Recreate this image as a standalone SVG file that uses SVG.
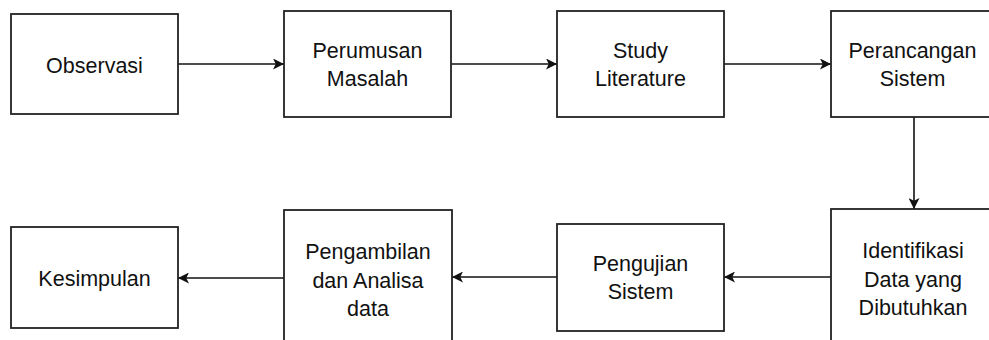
<svg xmlns="http://www.w3.org/2000/svg" width="989" height="340" viewBox="0 0 989 340">
<style>
.box{fill:#fff;stroke:#222;stroke-width:1.8}
.lbl{font-family:"Liberation Sans",Arial,sans-serif;font-size:21.5px;fill:#111;text-anchor:middle}
.conn{stroke:#111;stroke-width:1.6;fill:none}
</style>
<defs>
<marker id="arr" viewBox="0 0 10 10" refX="10" refY="5" markerWidth="11" markerHeight="11" markerUnits="userSpaceOnUse" orient="auto">
<path d="M0,0 L10,5 L0,10 L2.5,5 Z" fill="#111"/>
</marker>
</defs>
<rect width="989" height="340" fill="#fff"/>
<g id="connectors">
<line class="conn" x1="178" y1="64" x2="284" y2="64" marker-end="url(#arr)"/>
<line class="conn" x1="451" y1="64" x2="557" y2="64" marker-end="url(#arr)"/>
<line class="conn" x1="724" y1="64" x2="831" y2="64" marker-end="url(#arr)"/>
<line class="conn" x1="914" y1="117" x2="914" y2="209" marker-end="url(#arr)"/>
<line class="conn" x1="831" y1="277" x2="724" y2="277" marker-end="url(#arr)"/>
<line class="conn" x1="557" y1="277" x2="452" y2="277" marker-end="url(#arr)"/>
<line class="conn" x1="284" y1="278" x2="178" y2="278" marker-end="url(#arr)"/>
</g>
<g id="observasi">
<rect class="box" x="11" y="14" width="167" height="100"/>
<text class="lbl" x="94.5" y="73">Observasi</text>
</g>
<g id="perumusan">
<rect class="box" x="284" y="11" width="167" height="106"/>
<text class="lbl" x="367.5" y="58">Perumusan</text>
<text class="lbl" x="367.5" y="86">Masalah</text>
</g>
<g id="study">
<rect class="box" x="557" y="11" width="167" height="106"/>
<text class="lbl" x="640.5" y="58">Study</text>
<text class="lbl" x="640.5" y="86">Literature</text>
</g>
<g id="perancangan">
<rect class="box" x="831" y="11" width="167" height="106"/>
<text class="lbl" x="912.5" y="58">Perancangan</text>
<text class="lbl" x="912.5" y="86">Sistem</text>
</g>
<g id="identifikasi">
<rect class="box" x="831" y="209" width="167" height="140"/>
<text class="lbl" x="913" y="258">Identifikasi</text>
<text class="lbl" x="913" y="287">Data yang</text>
<text class="lbl" x="913" y="315">Dibutuhkan</text>
</g>
<g id="pengujian">
<rect class="box" x="557" y="224" width="167" height="107"/>
<text class="lbl" x="640.5" y="271">Pengujian</text>
<text class="lbl" x="640.5" y="299">Sistem</text>
</g>
<g id="pengambilan">
<rect class="box" x="284" y="210" width="168" height="140"/>
<text class="lbl" x="368" y="259">Pengambilan</text>
<text class="lbl" x="368" y="288">dan Analisa</text>
<text class="lbl" x="368" y="316">data</text>
</g>
<g id="kesimpulan">
<rect class="box" x="11" y="227" width="167" height="101"/>
<text class="lbl" x="94.5" y="286">Kesimpulan</text>
</g>
</svg>
